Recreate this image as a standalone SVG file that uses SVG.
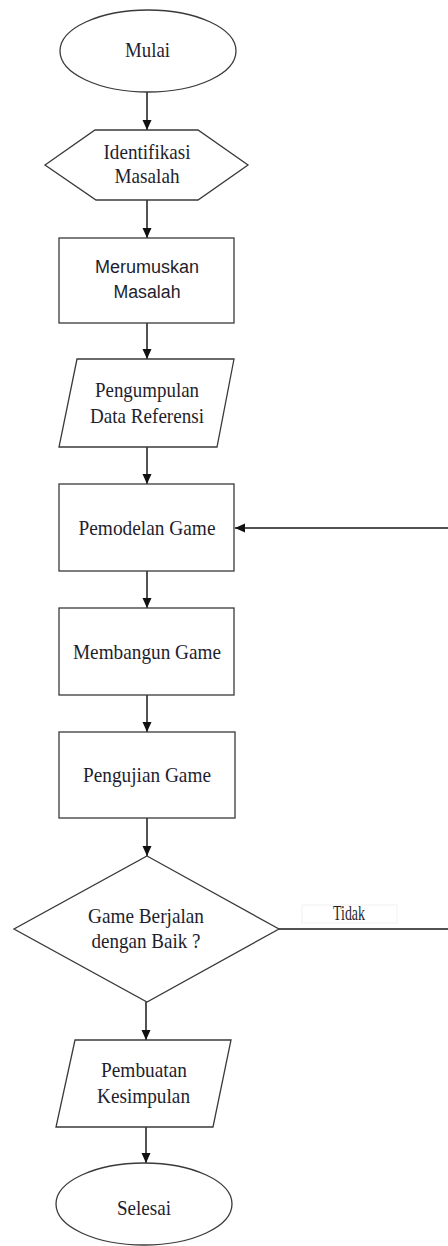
<svg xmlns="http://www.w3.org/2000/svg" width="448" height="1246" viewBox="0 0 448 1246">
<style>
.s{fill:#fff;stroke:#3a3a3a;stroke-width:1.3}
.t{font-family:"Liberation Serif","Times New Roman",serif;font-size:21px;fill:#1e1e2e;text-anchor:middle}
.ts{font-family:"Liberation Sans",Arial,sans-serif;font-size:18px;fill:#1e1e2e;text-anchor:middle}
.c{fill:none;stroke:#1a1a1a;stroke-width:1.5}
</style>
<defs>
<marker id="ah" markerUnits="userSpaceOnUse" markerWidth="10" markerHeight="10" refX="10" refY="5" orient="auto">
<path d="M0,0.5 L10,5 L0,9.5 z" fill="#111"/>
</marker>
</defs>
<rect width="448" height="1246" fill="#fff"/>
<g id="connectors">
<path class="c" d="M147,92 V130" marker-end="url(#ah)"/>
<path class="c" d="M147,200 V238" marker-end="url(#ah)"/>
<path class="c" d="M147,323 V359" marker-end="url(#ah)"/>
<path class="c" d="M147,447 V484" marker-end="url(#ah)"/>
<path class="c" d="M147,571 V608" marker-end="url(#ah)"/>
<path class="c" d="M147,695 V732" marker-end="url(#ah)"/>
<path class="c" d="M147,818 V856" marker-end="url(#ah)"/>
<path class="c" d="M146,1002 V1040" marker-end="url(#ah)"/>
<path class="c" d="M146,1127 V1163" marker-end="url(#ah)"/>
<path class="c" d="M279,929 H450 V528 H235" marker-end="url(#ah)"/>
<g id="label-tidak">
<rect x="302" y="905" width="95" height="18" fill="#fff" stroke="#f2f2f2" stroke-width="1"/>
<text class="t" x="349" y="920" font-size="15" textLength="32" lengthAdjust="spacingAndGlyphs">Tidak</text>
</g>
</g>
<g id="mulai">
<ellipse class="s" cx="148" cy="51" rx="88" ry="41"/>
<text class="t" x="147.5" y="57" textLength="45" lengthAdjust="spacingAndGlyphs">Mulai</text>
</g>
<g id="identifikasi">
<polygon class="s" points="45,165 95,130 198,130 248,165 198,200 96,200"/>
<text class="t" x="147" y="159" textLength="87" lengthAdjust="spacingAndGlyphs">Identifikasi</text>
<text class="t" x="147" y="183" textLength="65" lengthAdjust="spacingAndGlyphs">Masalah</text>
</g>
<g id="merumuskan">
<rect class="s" x="59" y="238" width="175" height="85"/>
<text class="ts" x="147" y="273" textLength="104" lengthAdjust="spacingAndGlyphs">Merumuskan</text>
<text class="ts" x="147" y="298" textLength="67" lengthAdjust="spacingAndGlyphs">Masalah</text>
</g>
<g id="pengumpulan">
<polygon class="s" points="77,359 234,359 217,447 59,447"/>
<text class="t" x="147" y="397" textLength="104" lengthAdjust="spacingAndGlyphs">Pengumpulan</text>
<text class="t" x="147" y="423" textLength="114" lengthAdjust="spacingAndGlyphs">Data Referensi</text>
</g>
<g id="pemodelan">
<rect class="s" x="59" y="484" width="175" height="87"/>
<text class="t" x="147" y="535" textLength="137" lengthAdjust="spacingAndGlyphs">Pemodelan Game</text>
</g>
<g id="membangun">
<rect class="s" x="59" y="608" width="175" height="87"/>
<text class="t" x="147" y="659" textLength="148" lengthAdjust="spacingAndGlyphs">Membangun Game</text>
</g>
<g id="pengujian">
<rect class="s" x="59" y="732" width="176" height="86"/>
<text class="t" x="147" y="782" textLength="128" lengthAdjust="spacingAndGlyphs">Pengujian Game</text>
</g>
<g id="keputusan">
<polygon class="s" points="147,856 279,929 147,1002 14,929"/>
<text class="t" x="146" y="923" textLength="116" lengthAdjust="spacingAndGlyphs">Game Berjalan</text>
<text class="t" x="146" y="948" textLength="109" lengthAdjust="spacingAndGlyphs">dengan Baik ?</text>
</g>
<g id="pembuatan">
<polygon class="s" points="75,1040 231,1040 213,1127 56,1127"/>
<text class="t" x="144" y="1077" textLength="86" lengthAdjust="spacingAndGlyphs">Pembuatan</text>
<text class="t" x="143.5" y="1103" textLength="93" lengthAdjust="spacingAndGlyphs">Kesimpulan</text>
</g>
<g id="selesai">
<ellipse class="s" cx="144" cy="1204" rx="88" ry="41"/>
<text class="t" x="144" y="1215" textLength="54" lengthAdjust="spacingAndGlyphs">Selesai</text>
</g>
</svg>
